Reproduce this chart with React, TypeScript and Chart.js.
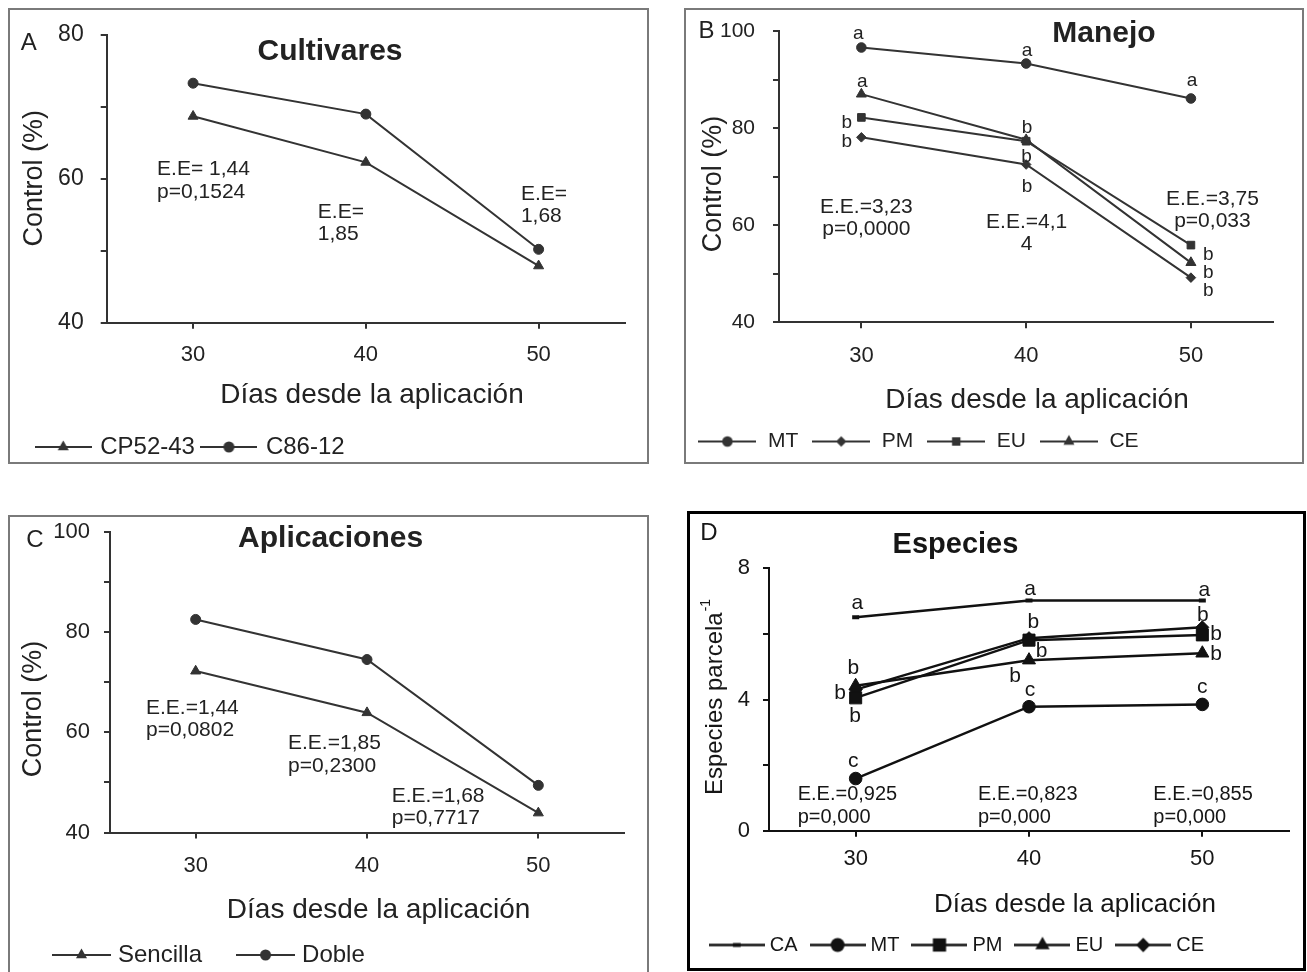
import React, { useEffect, useRef } from 'react';
import { Chart, registerables } from 'chart.js';

Chart.register(...registerables);

const FONT = "'Liberation Sans', Arial, Helvetica, sans-serif";
Chart.defaults.font.family = FONT;

// ---------- data ----------
const days = ['30', '40', '50'];

// Panel A – Cultivares (Control %)
const cultivarCP5243 = [68.7, 62.3, 47.9];
const cultivarC8612 = [73.3, 69.0, 50.2];

// Panel B – Manejo (Control %)
const manejoMT = [96.6, 93.3, 86.1];
const manejoPM = [78.1, 72.5, 49.2];
const manejoEU = [82.2, 77.3, 55.9];
const manejoCE = [87.0, 77.6, 52.3];

// Panel C – Aplicaciones (Control %)
const aplicSencilla = [72.2, 63.9, 43.9];
const aplicDoble = [82.5, 74.5, 49.4];

// Panel D – Especies (Especies parcela-1)
const especiesCA = [6.51, 7.02, 7.02];
const especiesMT = [1.59, 3.78, 3.85];
const especiesPM = [4.05, 5.81, 5.97];
const especiesEU = [4.42, 5.2, 5.41];
const especiesCE = [4.3, 5.87, 6.2];

// tick labels shown on the y axes
const controlTicksA = [40, 60, 80];
const controlTicksBC = [40, 60, 80, 100];
const especiesTicks = [0, 4, 8];

// ---------- helpers ----------
function drawMarker(ctx: CanvasRenderingContext2D, style: string, x: number, y: number, r: number) {
  ctx.beginPath();
  if (style === 'circle') {
    ctx.arc(x, y, r, 0, Math.PI * 2);
    ctx.fill();
  } else if (style === 'triangle') {
    let rad = 0;
    ctx.moveTo(x + Math.sin(rad) * r, y - Math.cos(rad) * r);
    rad += (2 * Math.PI) / 3;
    ctx.lineTo(x + Math.sin(rad) * r, y - Math.cos(rad) * r);
    rad += (2 * Math.PI) / 3;
    ctx.lineTo(x + Math.sin(rad) * r, y - Math.cos(rad) * r);
    ctx.closePath();
    ctx.fill();
  } else if (style === 'rect') {
    const s = r * Math.SQRT1_2;
    ctx.rect(x - s, y - s, 2 * s, 2 * s);
    ctx.fill();
  } else if (style === 'rectRot') {
    ctx.moveTo(x - r, y);
    ctx.lineTo(x, y - r);
    ctx.lineTo(x + r, y);
    ctx.lineTo(x, y + r);
    ctx.closePath();
    ctx.fill();
  } else if (style === 'line') {
    ctx.fillRect(x - r, y - 2, 2 * r, 4);
  }
}

function legendImage(style: string, r: number, len: number, lw: number, color: string) {
  const c = document.createElement('canvas');
  const h = Math.ceil(r * 2 + 6);
  c.width = len;
  c.height = h;
  const ctx = c.getContext('2d') as CanvasRenderingContext2D;
  ctx.strokeStyle = color;
  ctx.fillStyle = color;
  ctx.lineWidth = lw;
  ctx.beginPath();
  ctx.moveTo(0, h / 2);
  ctx.lineTo(len, h / 2);
  ctx.stroke();
  drawMarker(ctx, style, len / 2, h / 2, r * 1.1);
  return c;
}

type Series = { label: string; data: number[]; style: string; r: number };
type Note = { i: number; v: number; dx: number; lines: string[]; lh?: number; align?: string; font?: string };
type PageText = { text: string; x: number; y: number; font: string; rotate?: boolean; sup?: string; supFont?: string };

type Panel = {
  key: string;
  canvas: { left: number; top: number; right: number };
  plot: { left: number; right: number; top: number; bottom: number };
  y: { min: number; max: number; step: number; labels: number[] };
  series: Series[];
  lineColor: string;
  lineWidth: number;
  textColor: string;
  tickFont: number;
  yTickPad: number;
  xTickPad: number;
  legend: { fs: number; pad: number; bw: number; x0: number; cy: number; len: number };
  texts: PageText[];
  notes: Note[];
  noteFont: string;
  noteLh: number;
  noteAlign: string;
};

function layoutOf(p: Panel) {
  const L = p.legend;
  const cl = p.canvas.left;
  const ct = p.canvas.top;
  const W = Math.round(p.canvas.right - cl);
  const H = Math.round(L.cy + L.fs / 2 + 10 - ct);
  const padLeft = L.x0 - cl - L.pad;
  const padTop = p.plot.top - ct;
  const padRight = p.canvas.right - p.plot.right;
  const yWidth = p.plot.left - cl - padLeft;
  const legendTop = H - (L.pad + L.fs + 10);
  const xHeight = legendTop - (p.plot.bottom - ct);
  return { W, H, padLeft, padTop, padRight, yWidth, xHeight };
}

function buildConfig(p: Panel): any {
  const lay = layoutOf(p);
  const imgs = p.series.map((s) => legendImage(s.style, s.r, p.legend.len, p.lineWidth, p.lineColor));
  const origin = { left: p.canvas.left, top: p.canvas.top };

  const textPlugin = {
    id: 'panelText' + p.key,
    afterDraw(chart: any) {
      const ctx: CanvasRenderingContext2D = chart.ctx;
      const xs = chart.scales.x;
      const ys = chart.scales.y;
      ctx.save();
      ctx.fillStyle = p.textColor;
      ctx.textBaseline = 'middle';
      for (const t of p.texts) {
        const x = t.x - origin.left;
        const y = t.y - origin.top;
        ctx.font = t.font;
        if (t.rotate) {
          ctx.save();
          ctx.translate(x, y);
          ctx.rotate(-Math.PI / 2);
          const w1 = ctx.measureText(t.text).width;
          let w2 = 0;
          if (t.sup) {
            ctx.font = t.supFont || t.font;
            w2 = ctx.measureText(t.sup).width;
            ctx.font = t.font;
          }
          const start = -(w1 + w2) / 2;
          ctx.textAlign = 'left';
          ctx.fillText(t.text, start, 0);
          if (t.sup) {
            ctx.font = t.supFont || t.font;
            ctx.fillText(t.sup, start + w1 + 1, -9);
          }
          ctx.restore();
        } else {
          ctx.textAlign = 'center';
          ctx.fillText(t.text, x, y);
        }
      }
      for (const n of p.notes) {
        const x = xs.getPixelForValue(n.i) + n.dx;
        const y0 = ys.getPixelForValue(n.v);
        ctx.font = n.font || p.noteFont;
        ctx.textAlign = (n.align || p.noteAlign) as CanvasTextAlign;
        const lh = n.lh || p.noteLh;
        n.lines.forEach((line, k) => ctx.fillText(line, x, y0 + k * lh));
      }
      ctx.restore();
    },
  };

  const axisGrid = {
    display: true,
    drawOnChartArea: false,
    drawTicks: true,
    tickLength: 6,
    color: p.lineColor,
    lineWidth: 2,
  };

  return {
    type: 'line',
    data: {
      labels: days,
      datasets: p.series.map((s) => ({
        label: s.label,
        data: s.data,
        borderColor: p.lineColor,
        backgroundColor: p.lineColor,
        borderWidth: p.lineWidth,
        pointStyle: s.style,
        pointRadius: s.r,
        pointHoverRadius: s.r,
        pointBackgroundColor: p.lineColor,
        pointBorderColor: p.lineColor,
        pointBorderWidth: s.style === 'line' ? 4 : 1,
        tension: 0,
        fill: false,
      })),
    },
    options: {
      responsive: false,
      animation: false,
      events: [],
      layout: {
        autoPadding: false,
        padding: { left: lay.padLeft, top: lay.padTop, right: lay.padRight, bottom: 0 },
      },
      plugins: {
        tooltip: { enabled: false },
        title: { display: false },
        legend: {
          display: true,
          position: 'bottom',
          align: 'start',
          labels: {
            usePointStyle: true,
            pointStyleWidth: p.legend.bw,
            padding: p.legend.pad,
            color: p.textColor,
            font: { size: p.legend.fs, family: FONT },
            generateLabels: (chart: any) =>
              chart.data.datasets.map((ds: any, i: number) => ({
                text: ds.label,
                pointStyle: imgs[i],
                datasetIndex: i,
                hidden: false,
                lineWidth: 0,
                fillStyle: 'rgba(0,0,0,0)',
                strokeStyle: 'rgba(0,0,0,0)',
                fontColor: p.textColor,
              })),
          },
        },
      },
      scales: {
        x: {
          type: 'category',
          offset: true,
          grid: { ...axisGrid, offset: false },
          border: { display: true, color: p.lineColor, width: 2 },
          ticks: {
            color: p.textColor,
            font: { size: 22, family: FONT },
            padding: p.xTickPad,
            maxRotation: 0,
            autoSkip: false,
          },
          afterFit: (s: any) => {
            s.height = lay.xHeight;
          },
        },
        y: {
          type: 'linear',
          min: p.y.min,
          max: p.y.max,
          grid: axisGrid,
          border: { display: true, color: p.lineColor, width: 2 },
          ticks: {
            stepSize: p.y.step,
            color: p.textColor,
            font: { size: p.tickFont, family: FONT, lineHeight: 1 },
            padding: p.yTickPad,
            callback: (v: any) => (p.y.labels.includes(Number(v)) ? String(v) : ''),
          },
          afterFit: (s: any) => {
            s.width = lay.yWidth;
          },
        },
      },
    },
    plugins: [textPlugin],
  };
}

// ---------- panels ----------
const grayText = '#222222';
const titleFont = `bold 30px ${FONT}`;
const letterFont = `24px ${FONT}`;
const yTitleFont = `27px ${FONT}`;
const xTitleFont = `28px ${FONT}`;

const panelA: Panel = {
  key: 'A',
  canvas: { left: 0, top: 0, right: 660 },
  plot: { left: 106.7, right: 625, top: 35, bottom: 322.7 },
  y: { min: 40, max: 80, step: 10, labels: controlTicksA },
  series: [
    { label: 'CP52-43', data: cultivarCP5243, style: 'triangle', r: 5.8 },
    { label: 'C86-12', data: cultivarC8612, style: 'circle', r: 5 },
  ],
  lineColor: '#333333',
  lineWidth: 2,
  textColor: grayText,
  tickFont: 23,
  yTickPad: 17,
  xTickPad: 13,
  legend: { fs: 24, pad: 9, bw: 50, x0: 38.2, cy: 446.7, len: 57 },
  texts: [
    { text: 'A', x: 28.7, y: 43.3, font: letterFont },
    { text: 'Cultivares', x: 330, y: 51.7, font: titleFont },
    { text: 'Control (%)', x: 34.7, y: 178.3, font: yTitleFont, rotate: true },
    { text: 'Días desde la aplicación', x: 372, y: 395, font: xTitleFont },
  ],
  notes: [
    { i: 0, v: 61.4, dx: -36, lines: ['E.E= 1,44', 'p=0,1524'], lh: 23 },
    { i: 1, v: 55.3, dx: -48, lines: ['E.E=', '1,85'] },
    { i: 2, v: 57.9, dx: -17.7, lines: ['E.E=', '1,68'] },
  ],
  noteFont: `21px ${FONT}`,
  noteLh: 22,
  noteAlign: 'left',
};

const letterB = `19px ${FONT}`;
const panelB: Panel = {
  key: 'B',
  canvas: { left: 670, top: 0, right: 1307 },
  plot: { left: 779, right: 1273.3, top: 31, bottom: 322.3 },
  y: { min: 40, max: 100, step: 10, labels: controlTicksBC },
  series: [
    { label: 'MT', data: manejoMT, style: 'circle', r: 4.8 },
    { label: 'PM', data: manejoPM, style: 'rectRot', r: 4.8 },
    { label: 'EU', data: manejoEU, style: 'rect', r: 5.4 },
    { label: 'CE', data: manejoCE, style: 'triangle', r: 5.8 },
  ],
  lineColor: '#333333',
  lineWidth: 2,
  textColor: grayText,
  tickFont: 21,
  yTickPad: 18,
  xTickPad: 14,
  legend: { fs: 21, pad: 13, bw: 60, x0: 697.4, cy: 441.7, len: 58 },
  texts: [
    { text: 'B', x: 706.5, y: 31.7, font: letterFont },
    { text: 'Manejo', x: 1104, y: 33.3, font: titleFont },
    { text: 'Control (%)', x: 713.3, y: 184, font: yTitleFont, rotate: true },
    { text: 'Días desde la aplicación', x: 1037, y: 400, font: xTitleFont },
  ],
  notes: [
    { i: 0, v: 63.8, dx: 5, lines: ['E.E.=3,23', 'p=0,0000'] },
    { i: 1, v: 60.7, dx: 0.5, lines: ['E.E.=4,1', '4'] },
    { i: 2, v: 65.3, dx: 21.5, lines: ['E.E.=3,75', 'p=0,033'] },
    { i: 0, v: 99.4, dx: -3, lines: ['a'], font: letterB },
    { i: 1, v: 95.9, dx: 1, lines: ['a'], font: letterB },
    { i: 2, v: 89.8, dx: 1, lines: ['a'], font: letterB },
    { i: 0, v: 89.5, dx: 1, lines: ['a'], font: letterB },
    { i: 0, v: 81.0, dx: -14.7, lines: ['b'], font: letterB },
    { i: 0, v: 77.2, dx: -14.7, lines: ['b'], font: letterB },
    { i: 1, v: 80.0, dx: 1, lines: ['b'], font: letterB },
    { i: 1, v: 74.1, dx: 0.5, lines: ['b'], font: letterB },
    { i: 1, v: 67.9, dx: 1, lines: ['b'], font: letterB },
    { i: 2, v: 54.0, dx: 17.3, lines: ['b'], font: letterB },
    { i: 2, v: 50.1, dx: 17.3, lines: ['b'], font: letterB },
    { i: 2, v: 46.5, dx: 17.3, lines: ['b'], font: letterB },
  ],
  noteFont: `21px ${FONT}`,
  noteLh: 22,
  noteAlign: 'center',
};

const panelC: Panel = {
  key: 'C',
  canvas: { left: 0, top: 490, right: 660 },
  plot: { left: 110, right: 624, top: 531.7, bottom: 832.5 },
  y: { min: 40, max: 100, step: 10, labels: controlTicksBC },
  series: [
    { label: 'Sencilla', data: aplicSencilla, style: 'triangle', r: 5.8 },
    { label: 'Doble', data: aplicDoble, style: 'circle', r: 5 },
  ],
  lineColor: '#333333',
  lineWidth: 2,
  textColor: grayText,
  tickFont: 22,
  yTickPad: 14,
  xTickPad: 14,
  legend: { fs: 24, pad: 39, bw: 49, x0: 57, cy: 955, len: 59 },
  texts: [
    { text: 'C', x: 35, y: 540, font: letterFont },
    { text: 'Aplicaciones', x: 330.6, y: 539, font: titleFont },
    { text: 'Control (%)', x: 33.3, y: 709, font: yTitleFont, rotate: true },
    { text: 'Días desde la aplicación', x: 378.6, y: 910.7, font: xTitleFont },
  ],
  notes: [
    { i: 0, v: 64.8, dx: -49.7, lines: ['E.E.=1,44', 'p=0,0802'] },
    { i: 1, v: 57.9, dx: -79, lines: ['E.E.=1,85', 'p=0,2300'], lh: 23.3 },
    { i: 1, v: 47.3, dx: 24.7, lines: ['E.E.=1,68', 'p=0,7717'] },
  ],
  noteFont: `21px ${FONT}`,
  noteLh: 22.4,
  noteAlign: 'left',
};

const letterD = `21px ${FONT}`;
const panelD: Panel = {
  key: 'D',
  canvas: { left: 680, top: 495, right: 1307 },
  plot: { left: 769, right: 1289, top: 568.3, bottom: 830.7 },
  y: { min: 0, max: 8, step: 2, labels: especiesTicks },
  series: [
    { label: 'CA', data: especiesCA, style: 'line', r: 3.5 },
    { label: 'MT', data: especiesMT, style: 'circle', r: 6.3 },
    { label: 'PM', data: especiesPM, style: 'rect', r: 8.5 },
    { label: 'EU', data: especiesEU, style: 'triangle', r: 7.5 },
    { label: 'CE', data: especiesCE, style: 'rectRot', r: 6.5 },
  ],
  lineColor: '#111111',
  lineWidth: 2.5,
  textColor: '#161616',
  tickFont: 22,
  yTickPad: 13,
  xTickPad: 9.5,
  legend: { fs: 20, pad: 17, bw: 46, x0: 713.8, cy: 945, len: 56 },
  texts: [
    { text: 'D', x: 709, y: 533.3, font: letterFont },
    { text: 'Especies', x: 955.5, y: 545, font: `bold 29px ${FONT}` },
    { text: 'Especies parcela', x: 715, y: 697.5, font: `24px ${FONT}`, rotate: true, sup: '-1', supFont: `14px ${FONT}` },
    { text: 'Días desde la aplicación', x: 1075, y: 905, font: `26px ${FONT}` },
  ],
  notes: [
    { i: 0, v: 1.09, dx: -58, lines: ['E.E.=0,925', 'p=0,000'] },
    { i: 1, v: 1.09, dx: -51, lines: ['E.E.=0,823', 'p=0,000'] },
    { i: 2, v: 1.09, dx: -49, lines: ['E.E.=0,855', 'p=0,000'] },
    { i: 0, v: 6.95, dx: 1.6, lines: ['a'], font: letterD, align: 'center' },
    { i: 1, v: 7.36, dx: 1, lines: ['a'], font: letterD, align: 'center' },
    { i: 2, v: 7.34, dx: 2, lines: ['a'], font: letterD, align: 'center' },
    { i: 0, v: 4.95, dx: -2.4, lines: ['b'], font: letterD, align: 'center' },
    { i: 0, v: 4.19, dx: -15.7, lines: ['b'], font: letterD, align: 'center' },
    { i: 0, v: 3.48, dx: -0.7, lines: ['b'], font: letterD, align: 'center' },
    { i: 0, v: 2.13, dx: -2.4, lines: ['c'], font: letterD, align: 'center' },
    { i: 1, v: 6.37, dx: 4.3, lines: ['b'], font: letterD, align: 'center' },
    { i: 1, v: 5.48, dx: 12.7, lines: ['b'], font: letterD, align: 'center' },
    { i: 1, v: 4.72, dx: -14, lines: ['b'], font: letterD, align: 'center' },
    { i: 1, v: 4.29, dx: 1, lines: ['c'], font: letterD, align: 'center' },
    { i: 2, v: 6.58, dx: 0.4, lines: ['b'], font: letterD, align: 'center' },
    { i: 2, v: 5.99, dx: 13.7, lines: ['b'], font: letterD, align: 'center' },
    { i: 2, v: 5.38, dx: 13.7, lines: ['b'], font: letterD, align: 'center' },
    { i: 2, v: 4.39, dx: 0, lines: ['c'], font: letterD, align: 'center' },
  ],
  noteFont: `20px ${FONT}`,
  noteLh: 22.3,
  noteAlign: 'left',
};

const panels = [panelA, panelB, panelC, panelD];

const boxes = [
  { left: 8, top: 8, width: 641, height: 456, border: '2px solid #7a7a7a' },
  { left: 684, top: 8, width: 620, height: 456, border: '2px solid #7a7a7a' },
  { left: 8, top: 515, width: 641, height: 480, border: '2px solid #7a7a7a' },
  { left: 687, top: 511, width: 619, height: 460, border: '3px solid #000' },
];

function PanelChart({ panel }: { panel: Panel }) {
  const ref = useRef<HTMLCanvasElement | null>(null);
  const lay = layoutOf(panel);
  useEffect(() => {
    if (!ref.current) return;
    const chart = new Chart(ref.current, buildConfig(panel));
    return () => chart.destroy();
  }, [panel]);
  return (
    <canvas
      ref={ref}
      width={lay.W}
      height={lay.H}
      style={{
        position: 'absolute',
        left: panel.canvas.left,
        top: panel.canvas.top,
        width: lay.W,
        height: lay.H,
      }}
    />
  );
}

export default function App() {
  return (
    <div
      style={{
        position: 'absolute',
        left: 0,
        top: 0,
        width: 1307,
        height: 972,
        overflow: 'hidden',
        background: '#fff',
      }}
    >
      {boxes.map((b, i) => (
        <div
          key={i}
          style={{
            position: 'absolute',
            left: b.left,
            top: b.top,
            width: b.width,
            height: b.height,
            border: b.border,
            boxSizing: 'border-box',
          }}
        />
      ))}
      {panels.map((p) => (
        <PanelChart key={p.key} panel={p} />
      ))}
    </div>
  );
}
